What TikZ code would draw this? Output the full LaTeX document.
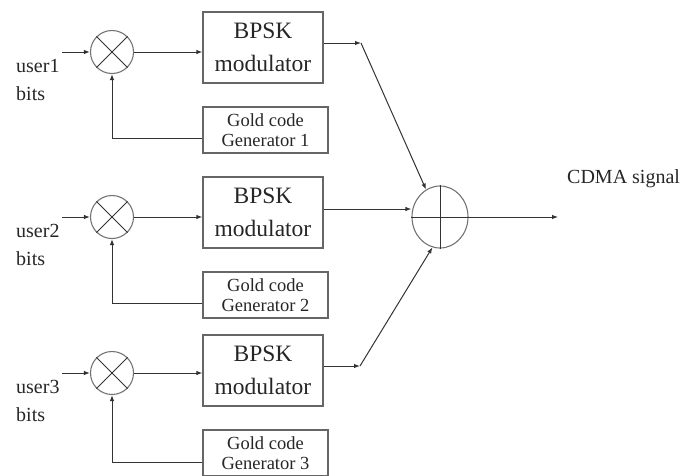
\documentclass[tikz,border=0pt]{standalone}
\usepackage{fontspec}
\setmainfont{Liberation Serif}
\usetikzlibrary{arrows.meta,shapes.geometric}
\begin{document}
\begin{tikzpicture}[x=1pt,y=-1pt,
  ln/.style={draw=black!80,line width=1pt},
  arr/.style={ln,-{Latex[length=6pt,width=4.5pt]}},
  bpsk/.style={draw=black!60,line width=1.3pt,rectangle,minimum width=120pt,minimum height=71pt,inner sep=0pt,align=center,font=\fontsize{23.5}{33}\selectfont,text=black!85},
  gold/.style={draw=black!60,line width=1.3pt,rectangle,minimum width=125pt,minimum height=46pt,inner sep=0pt,align=center,font=\fontsize{18.5}{20}\selectfont,text=black!85},
  mix/.style={draw=black!55,line width=1.1pt,circle,minimum size=43pt,inner sep=0pt},
  lbl/.style={anchor=base west,inner sep=0pt,font=\fontsize{20}{24}\selectfont,text=black!85}
]
\useasboundingbox (0,0) rectangle (686,475);

% adder
\node[draw=black!55,line width=1.1pt,ellipse,minimum width=56pt,minimum height=62pt,inner sep=0pt] (add) at (440,217) {};
\draw[ln] (add.north) -- (add.south);
\draw[ln] (add.west) -- (add.east);
\coordinate (out) at (558,217);
\draw[arr] (add.east) -- (out);
\node[lbl] (cdma) at (567,183) {CDMA signal};

% rows
\foreach \i/\yc/\yb/\yg/\fb in {1/52/47.5/130/8.5, 2/217/212.5/295/8, 3/373/370.5/453/9}{
  \node[mix] (m\i) at (112,\yc) {};
  \draw[ln] (m\i.45) -- (m\i.225);
  \draw[ln] (m\i.135) -- (m\i.-45);
  \node[bpsk] (b\i) at (263,\yb) {BPSK\\modulator};
  \node[gold] (g\i) at (265.5,\yg) {Gold code\\Generator \i};
  \node[lbl] (u\i) at (16,\yc+20) {user\i};
  \node[lbl] (t\i) at (16,\yc+48) {bits};
  \coordinate (s\i) at (62,\yc);
  \draw[arr] (s\i) -- (m\i.west);
  \draw[arr] (m\i.east) -- (b\i.west |- m\i.east);
  \draw[arr] ([yshift=-\fb pt]g\i.west) -| (m\i.south);
}

% BPSK outputs to adder
\coordinate (j1) at (361,43);
\coordinate (j2) at (410,209);
\coordinate (j3) at (360,366);
\draw[arr] (b1.east |- j1) -- (j1);
\draw[arr] (j1) -- (add.117);
\draw[arr] (b2.east |- j2) -- (add.west |- j2);
\draw[arr] (b3.east |- j3) -- (j3);
\draw[arr] (j3) -- (add.-104);
\end{tikzpicture}
\end{document}
